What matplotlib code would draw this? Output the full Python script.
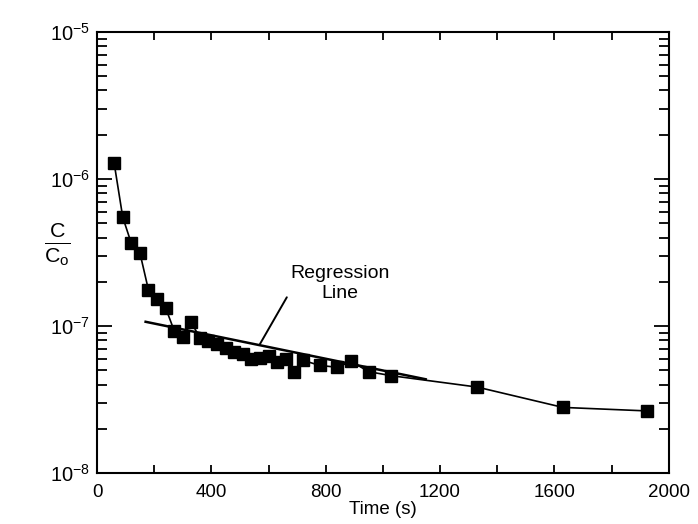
import matplotlib
matplotlib.use("Agg")
import matplotlib.pyplot as plt
from matplotlib.ticker import LogLocator, MultipleLocator, NullFormatter

plt.rcParams['font.family'] = ['Liberation Sans', 'DejaVu Sans']
plt.rcParams['mathtext.fontset'] = 'custom'
plt.rcParams['mathtext.rm'] = 'Liberation Sans'
plt.rcParams['mathtext.it'] = 'Liberation Sans'
plt.rcParams['mathtext.sf'] = 'Liberation Sans'

time_s = [60, 90, 120, 150, 180, 210, 240, 270, 300, 330, 360, 390, 420, 450,
          480, 510, 540, 570, 600, 630, 660, 690, 720, 780, 840, 890, 950, 1030,
          1330, 1630, 1925]
conc = [1.28e-6, 5.5e-7, 3.65e-7, 3.15e-7, 1.76e-7, 1.53e-7, 1.33e-7, 9.3e-8,
        8.4e-8, 1.06e-7, 8.3e-8, 7.9e-8, 7.5e-8, 7.1e-8, 6.7e-8, 6.45e-8,
        6.0e-8, 6.1e-8, 6.25e-8, 5.7e-8, 5.95e-8, 4.9e-8, 5.85e-8, 5.4e-8,
        5.25e-8, 5.75e-8, 4.9e-8, 4.6e-8, 3.85e-8, 2.8e-8, 2.65e-8]

reg_x = [170, 1150]
reg_y = [1.07e-7, 4.35e-8]

label_text = 'Regression\nLine'
label_pos = (850, 1.95e-7)
leader_from = (664, 1.57e-7)
leader_to = (570, 7.55e-8)

fig = plt.figure(figsize=(6.98, 5.24), dpi=100)
ax = fig.add_axes([0.139, 0.097, 0.819, 0.842])

ax.plot(time_s, conc, color='black', lw=1.2, marker='s', ms=8,
        markerfacecolor='black', markeredgecolor='black')
ax.plot(reg_x, reg_y, color='black', lw=1.8)

ax.set_yscale('log')
ax.set_xlim(0, 2000)
ax.set_ylim(1e-8, 1e-5)

ax.xaxis.set_major_locator(MultipleLocator(400))
ax.xaxis.set_minor_locator(MultipleLocator(200))
ax.yaxis.set_major_locator(LogLocator(base=10, numticks=10))
ax.yaxis.set_minor_locator(LogLocator(base=10, subs=range(2, 10), numticks=20))
ax.yaxis.set_minor_formatter(NullFormatter())

ax.tick_params(axis='both', which='both', direction='in', top=True, right=True,
               labelsize=13.5, width=1.3)
ax.tick_params(axis='y', which='major', length=11, pad=5, labelsize=14.5)
ax.tick_params(axis='y', which='minor', length=7)
ax.tick_params(axis='x', which='major', length=6)
ax.tick_params(axis='x', which='minor', length=6)
ax.tick_params(axis='x', which='major', pad=8)

for s in ax.spines.values():
    s.set_linewidth(1.5)

ax.set_xlabel('Time (s)', fontsize=13.5, labelpad=0)
fig.text(0.082, 0.535, r'$\frac{\mathrm{C}}{\mathrm{C_o}}$', fontsize=22,
         ha='center', va='center')

ax.text(label_pos[0], label_pos[1], label_text, ha='center', va='center',
        fontsize=14, linespacing=1.2)
ax.annotate('', xy=leader_to, xytext=leader_from,
            arrowprops=dict(arrowstyle='-', color='black', lw=1.4,
                            shrinkA=0, shrinkB=0))

fig.savefig('out.png', dpi=100)
